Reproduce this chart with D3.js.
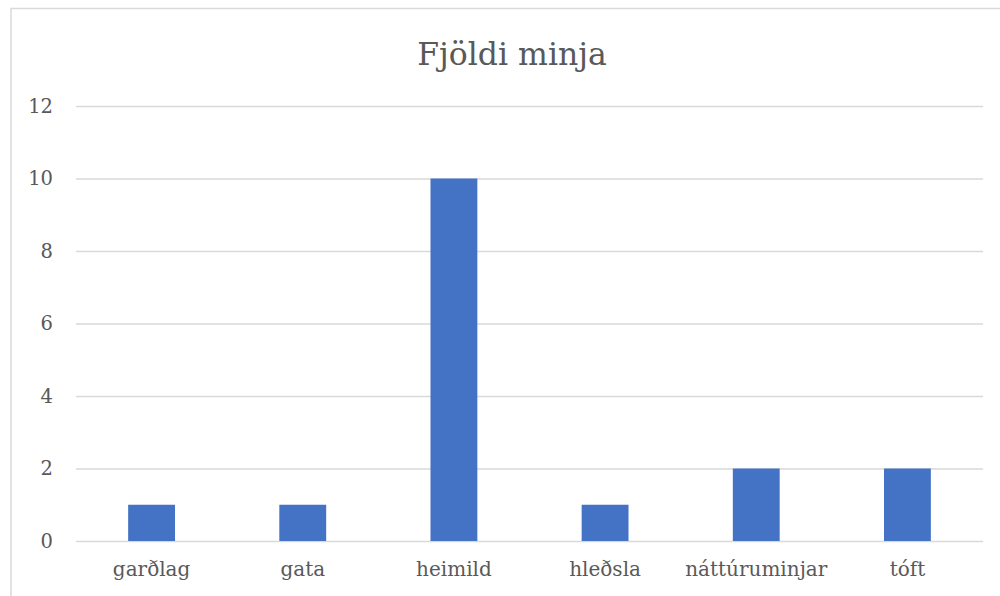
<!DOCTYPE html>
<html>
<head>
<meta charset="utf-8">
<script src="https://cdn.jsdelivr.net/npm/d3@7"></script>
<style>
  html, body { margin: 0; padding: 0; background: #fff; }
  svg { display: block; }
</style>
</head>
<body>
<div id="chart"></div>
<script>
// ── Data ─────────────────────────────────────
const categories = ["garðlag", "gata", "heimild", "hleðsla", "náttúruminjar", "tóft"];
const counts     = [1, 1, 10, 1, 2, 2];
const yTicks     = [0, 2, 4, 6, 8, 10, 12];
const chartTitle = "Fjöldi minja";

const W = 1000, H = 596;
const FONT = "'DejaVu Serif', serif";
const TEXT_COLOR = "#595959";
const GRID_COLOR = "#d9d9d9";
const BAR_COLOR  = "#4472C4";

const plot = { left: 76, right: 983, top: 106, bottom: 541 };

const svg = d3.select("#chart").append("svg")
  .attr("width", W).attr("height", H);

// chart frame (only left and top edges are visible in the crop)
svg.append("rect")
  .attr("x", 11).attr("y", 8.5)
  .attr("width", 1010).attr("height", 600)
  .attr("fill", "#fff")
  .attr("stroke", GRID_COLOR).attr("stroke-width", 1.5);

const x = d3.scaleBand()
  .domain(categories)
  .range([plot.left, plot.right])
  .paddingInner(0.69).paddingOuter(0.345);

const y = d3.scaleLinear()
  .domain([0, 12])
  .range([plot.bottom, plot.top]);

// grid
svg.append("g")
  .attr("transform", `translate(${plot.left},0)`)
  .call(d3.axisLeft(y).tickValues(yTicks).tickSize(-(plot.right - plot.left)).tickFormat(""))
  .call(g => {
    g.select(".domain").remove();
    g.selectAll(".tick line").attr("stroke", GRID_COLOR).attr("stroke-width", 1.3);
  });

// bars
svg.selectAll(".bar").data(categories).join("rect")
  .attr("class", "bar")
  .attr("x", d => x(d))
  .attr("y", (d, i) => y(counts[i]))
  .attr("width", x.bandwidth())
  .attr("height", (d, i) => y(0) - y(counts[i]))
  .attr("fill", BAR_COLOR);

// y axis labels
const yAxis = svg.append("g")
  .attr("transform", `translate(${plot.left},0)`)
  .call(d3.axisLeft(y).tickValues(yTicks).tickSize(0).tickPadding(23));
yAxis.select(".domain").remove();
yAxis.selectAll("text")
  .attr("font-family", FONT).attr("font-size", "19.5px").attr("fill", TEXT_COLOR);

// x axis labels
const xAxis = svg.append("g")
  .attr("transform", `translate(0,${plot.bottom})`)
  .call(d3.axisBottom(x).tickSize(0).tickPadding(21));
xAxis.select(".domain").remove();
xAxis.selectAll("text")
  .attr("font-family", FONT).attr("font-size", "20px").attr("fill", TEXT_COLOR);

// title
svg.append("text")
  .attr("x", 512).attr("y", 65)
  .attr("text-anchor", "middle")
  .attr("font-family", FONT).attr("font-size", "31.5px")
  .attr("fill", TEXT_COLOR)
  .text(chartTitle);
</script>
</body>
</html>
